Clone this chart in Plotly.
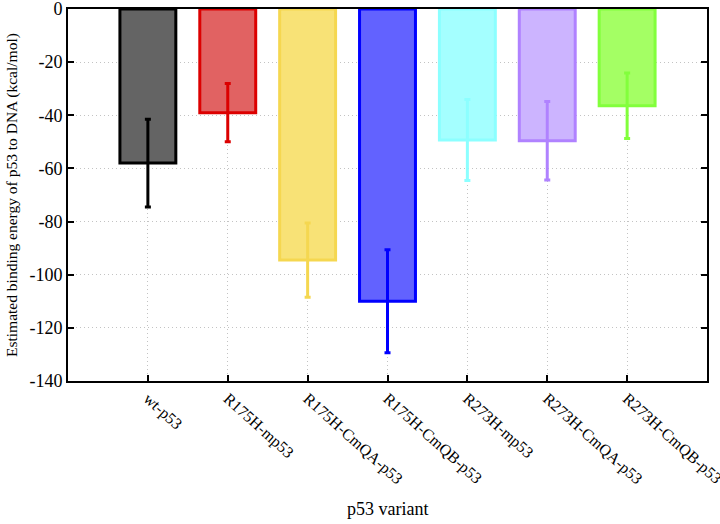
import plotly.graph_objects as go

variants = ["wt-p53", "R175H-mp53", "R175H-CmQA-p53", "R175H-CmQB-p53",
            "R273H-mp53", "R273H-CmQA-p53", "R273H-CmQB-p53"]
energy = [-58, -39, -94.5, -110, -49.3, -49.6, -36.4]
err = [16.5, 11, 14, 19.4, 15.2, 14.8, 12.3]
fills = ["rgb(100,100,100)", "rgb(225,98,98)", "rgb(248,226,118)", "rgb(98,98,255)",
         "rgb(164,255,255)", "rgb(204,180,255)", "rgb(164,255,100)"]
lines = ["rgb(0,0,0)", "rgb(220,0,0)", "rgb(245,215,80)", "rgb(0,0,255)",
         "rgb(140,255,255)", "rgb(176,130,255)", "rgb(130,255,60)"]
yticks = [0, -20, -40, -60, -80, -100, -120, -140]
ytick_labels = ["0", "-20", "-40", "-60", "-80", "-100", "-120", "-140"]

fig = go.Figure()
for i, name in enumerate(variants):
    fig.add_trace(go.Bar(
        x=[i + 1], y=[energy[i]], width=0.7, name=name,
        marker=dict(color=fills[i], line=dict(color=lines[i], width=3)),
        error_y=dict(type="data", array=[err[i]], color=lines[i], thickness=3, width=3),
        showlegend=False,
    ))

font = "Liberation Serif, Times New Roman, serif"
grid = "rgb(195,195,195)"
fig.update_layout(
    width=720, height=524,
    margin=dict(l=68, r=13, t=9, b=143),
    plot_bgcolor="white", paper_bgcolor="white",
    barmode="overlay",
    font=dict(family=font, size=16, color="black"),
    xaxis=dict(
        range=[0, 8], tickvals=list(range(1, len(variants) + 1)), ticktext=variants,
        tickangle=42, ticks="inside", ticklen=6, tickcolor="black", tickwidth=2,
        showline=True, linecolor="black", linewidth=2, mirror=True,
        showgrid=True, gridcolor=grid, griddash="1px,3px", gridwidth=1,
        zeroline=False, tickfont=dict(size=16, family=font), automargin=False,
        ticklabeloverflow="allow",
    ),
    yaxis=dict(
        range=[-140, 0], tickvals=yticks, ticktext=ytick_labels,
        ticks="inside", ticklen=6, tickcolor="black",
        tickwidth=2, showline=True, linecolor="black", linewidth=2, mirror="ticks",
        showgrid=True, gridcolor=grid, griddash="1px,3px", gridwidth=1,
        zeroline=False, tickfont=dict(size=18, family=font), automargin=False,
        ticklabeloverflow="allow",
    ),
)
fig.add_annotation(text="Estimated binding energy of p53 to DNA (kcal/mol)",
                   xref="paper", yref="paper", x=0, y=0.5, xshift=-56,
                   textangle=-90, showarrow=False, font=dict(size=15.5, family=font),
                   xanchor="center", yanchor="middle")
fig.add_annotation(text="p53 variant", xref="paper", yref="paper", x=0.5, y=0,
                   yshift=-128, showarrow=False, font=dict(size=18, family=font),
                   xanchor="center", yanchor="middle")
fig.write_html("out.html")
